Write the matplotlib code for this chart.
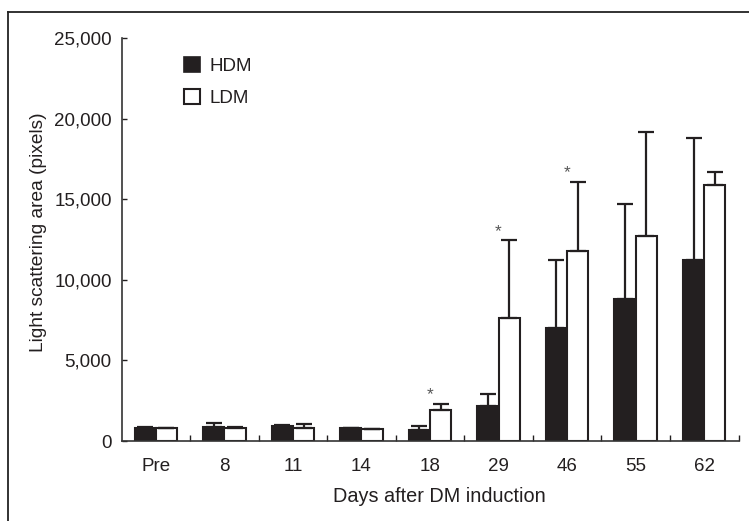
import matplotlib
matplotlib.use("Agg")
import matplotlib.pyplot as plt
from matplotlib.lines import Line2D
from matplotlib.patches import Patch
import numpy as np

plt.rcParams['font.family'] = ['Liberation Sans', 'DejaVu Sans']

categories = ["Pre", "8", "11", "14", "18", "29", "46", "55", "62"]
hdm = [826, 890, 950, 790, 680, 2190, 6996, 8815, 11218]
hdm_err = [60, 245, 40, 30, 270, 728, 4222, 5916, 7573]
ldm = [788, 825, 790, 745, 1920, 7617, 11795, 12726, 15892]
ldm_err = [30, 20, 285, 30, 380, 4843, 4284, 6438, 789]
significant = [False, False, False, False, True, True, True, False, False]
yticks = [0, 5000, 10000, 15000, 20000, 25000]
ytick_labels = ["0", "5,000", "10,000", "15,000", "20,000", "25,000"]

ink = "#231f20"
fs = 13.5
fs_lab = 14.3

fig = plt.figure(figsize=(7.49, 5.21), dpi=100)
ax = fig.add_axes([121.5/749, 1-441/521, (738.5-121.5)/749, (441-38.3)/521])

x = np.arange(len(categories))
w = 0.31
ax.bar(x - w/2, hdm, w, color=ink, edgecolor=ink, linewidth=1.5,
       yerr=[np.zeros(len(hdm)), hdm_err],
       error_kw=dict(ecolor=ink, elinewidth=1.6, capsize=5.5, capthick=1.6), zorder=2)
ax.bar(x + w/2, ldm, w, color="white", edgecolor=ink, linewidth=1.5,
       yerr=[np.zeros(len(ldm)), ldm_err],
       error_kw=dict(ecolor=ink, elinewidth=1.6, capsize=5.5, capthick=1.6), zorder=2)

for i, s in enumerate(significant):
    if s:
        ax.text(x[i], ldm[i] + ldm_err[i] + 100, "*", ha="center", va="bottom",
                fontsize=12.5, color="#555555")

ax.set_xlim(-0.5, 8.5)
ax.set_ylim(0, 25000)
ax.set_yticks(yticks)
ax.set_yticklabels(ytick_labels)
ax.set_xticks(x)
ax.set_xticklabels(categories)
ax.set_xticks(x + 0.5, minor=True)
ax.tick_params(axis='x', which='major', length=0, pad=12, labelsize=fs, colors=ink)
ax.tick_params(axis='x', which='minor', direction='in', length=4, width=1, color=ink)
ax.tick_params(axis='y', direction='in', length=3.5, width=1, pad=7, labelsize=fs, colors=ink)
for sp in ['top', 'right']:
    ax.spines[sp].set_visible(False)
for sp in ['left', 'bottom']:
    ax.spines[sp].set_color("#333333")
    ax.spines[sp].set_linewidth(1.2)

ax.set_xlabel("Days after DM induction", fontsize=fs_lab, color=ink)
ax.xaxis.set_label_coords((439 - 121.5)/617, -(497 - 441)/402.7)
ax.xaxis.label.set_va("center")
ax.set_ylabel("Light scattering area (pixels)", fontsize=13.8, color=ink)
ax.yaxis.set_label_coords((47 - 121.5)/617, (441 - 232.5)/402.7)

handles = [Patch(facecolor=ink, edgecolor=ink, linewidth=1.2),
           Patch(facecolor="white", edgecolor=ink, linewidth=1.5)]
leg = ax.legend(handles, ["HDM", "LDM"], loc="upper left",
                bbox_to_anchor=((184-121.5)/617, (441-57)/402.7),
                frameon=False, fontsize=fs, handlelength=0.85, handleheight=0.85,
                handletextpad=0.5, labelspacing=0.75, borderaxespad=0, borderpad=0)
for t in leg.get_texts():
    t.set_color(ink)

# outer frame (top and left edges visible)
fx = 8/749
fy = 1 - 12/521
fig.add_artist(Line2D([fx, fx], [0, fy], transform=fig.transFigure, color="#222222", lw=1.3))
fig.add_artist(Line2D([fx, 1.0], [fy, fy], transform=fig.transFigure, color="#222222", lw=1.3))

fig.savefig("out.png", dpi=100)
